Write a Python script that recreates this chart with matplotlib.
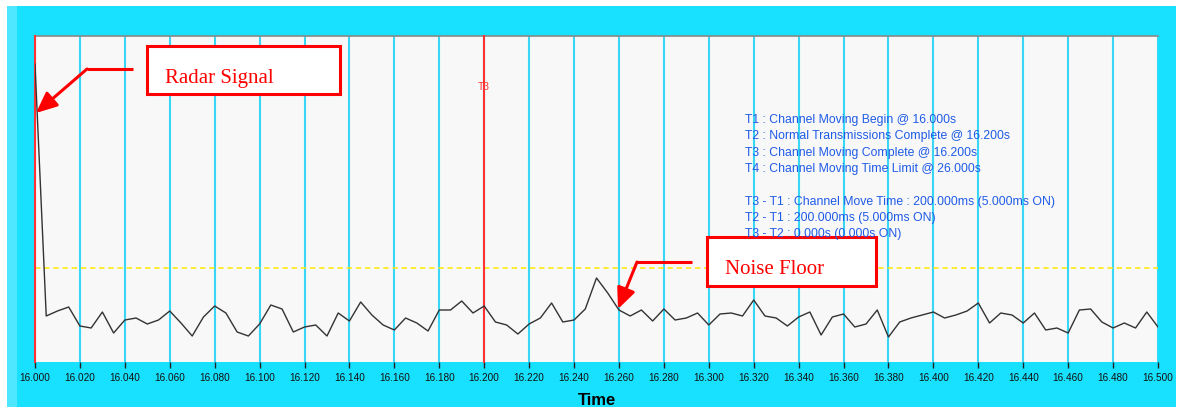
import matplotlib
matplotlib.use("Agg")
import matplotlib.pyplot as plt
from matplotlib.patches import Rectangle
import numpy as np

# ---- data ----
t_start = 16.000
t_step = 0.005
signal = [298, 46, 51, 55, 36, 34, 50, 29, 42, 44,
          38, 42, 51, 39, 26, 45, 56, 49, 30, 26,
          38, 57, 53, 30, 35, 37, 26, 49, 41, 60,
          47, 37, 32, 44, 39, 31, 52, 52, 61, 49,
          56, 40, 37, 28, 38, 44, 59, 40, 42, 53,
          84, 69, 52, 46, 52, 41, 53, 42, 44, 49,
          37, 48, 49, 46, 62, 46, 44, 36, 45, 50,
          27, 45, 48, 35, 38, 52, 25, 40, 44, 47,
          50, 44, 47, 51, 59, 39, 49, 47, 39, 49,
          32, 34, 29, 52, 53, 40, 34, 39, 34, 50,
          35]
times = [round(t_start + i * t_step, 3) for i in range(len(signal))]
noise_floor = 94
marker_times = [16.000, 16.200]
marker_label = "T3"
xtick_values = [round(16.0 + 0.02 * i, 2) for i in range(26)]
xtick_labels = ["%.3f" % v for v in xtick_values]
info_lines = [
    "T1 : Channel Moving Begin @ 16.000s",
    "T2 : Normal Transmissions Complete @ 16.200s",
    "T3 : Channel Moving Complete @ 16.200s",
    "T4 : Channel Moving Time Limit @ 26.000s",
    "",
    "T3 - T1 : Channel Move Time : 200.000ms (5.000ms ON)",
    "T2 - T1 : 200.000ms (5.000ms ON)",
    "T3 - T2 : 0.000s (0.000s ON)",
]

W, H = 1179, 407
fig = plt.figure(figsize=(W / 100, H / 100), dpi=100)
fig.patch.set_facecolor("white")

CYAN = "#18e0ff"
# background frame in pixel coordinates
bg = fig.add_axes([0, 0, 1, 1], facecolor="none", zorder=-10)
bg.set_xlim(0, W)
bg.set_ylim(H, 0)
bg.axis("off")
bg.add_patch(Rectangle((7, 6), 1176 - 7, H - 6, facecolor=CYAN, edgecolor="none"))
bg.add_patch(Rectangle((7, 6), 10, H - 6, facecolor="#4fe7ff", edgecolor="none"))

L, R, T, B = 35, 1158, 36, 362
ax = fig.add_axes([L / W, (H - B) / H, (R - L) / W, (B - T) / H], zorder=0)
ax.set_facecolor("#f8f8f8")
ax.set_xlim(16.0, 16.5)
ax.set_ylim(0, B - T)

for xv in xtick_values:
    ax.axvline(xv, color="#3ad6f6", lw=1.5, zorder=1)
for mt in marker_times:
    ax.axvline(mt, color="#ff3333", lw=1.5, zorder=3, clip_on=False)
ax.text(16.2, 275, marker_label, color="#ff3333", fontsize=7.5,
        family="Liberation Sans", ha="center", va="center", zorder=4)

ax.axhline(noise_floor, color="#ffe800", lw=1.1, ls=(0, (3.5, 2.5)), zorder=2)
ax.plot(times, signal, color="#333333", lw=1.0, zorder=5)

ax.set_xticks(xtick_values)
ax.set_xticklabels(xtick_labels, fontsize=7.2, family="Liberation Sans", color="#111111")
ax.set_yticks([])
ax.tick_params(axis="x", direction="out", length=4, width=1, color="#222222", pad=4)
for s in ["left", "right", "bottom"]:
    ax.spines[s].set_visible(False)
ax.spines["top"].set_color("#888888")
ax.spines["top"].set_linewidth(1.2)
ax.set_xlabel("Time", fontsize=12, fontweight="bold", family="Liberation Sans",
              labelpad=7)

# info text block
y0 = 120
for i, line in enumerate(info_lines):
    if line:
        fig.text(745 / W, 1 - (y0 + i * 16.3) / H, line, color="#1f5be6",
                 fontsize=8.8, family="Liberation Sans", va="center", ha="left",
                 zorder=20)

# overlay in pixel coordinates for callouts
ov = fig.add_axes([0, 0, 1, 1], facecolor="none", zorder=10)
ov.set_xlim(0, W)
ov.set_ylim(H, 0)
ov.axis("off")

RED = "#ff0000"
def callout(box, text, text_xy, hline, tip):
    x0, y0_, x1, y1 = box
    ov.add_patch(Rectangle((x0, y0_), x1 - x0, y1 - y0_, facecolor="white",
                           edgecolor=RED, lw=2.2, zorder=10))
    ov.text(text_xy[0], text_xy[1], text, color=RED, fontsize=15,
            family="Liberation Serif", ha="left", va="center", zorder=11)
    ov.plot([hline[0], hline[1]], [hline[2], hline[2]], color=RED, lw=2.2,
            zorder=10, solid_capstyle="butt")
    ov.annotate("", xy=tip, xytext=(hline[1], hline[2]),
                arrowprops=dict(arrowstyle="-|>,head_length=0.9,head_width=0.4",
                                color=RED, lw=2.2, mutation_scale=14,
                                shrinkA=0, shrinkB=0), zorder=10)

callout((147, 46, 340, 94), "Radar Signal", (165, 78), (133, 87, 69), (36, 113))
callout((707, 237, 876, 286), "Noise Floor", (725, 270), (692, 637, 262), (618, 309))

fig.savefig("out.png", dpi=100, facecolor=fig.get_facecolor())
